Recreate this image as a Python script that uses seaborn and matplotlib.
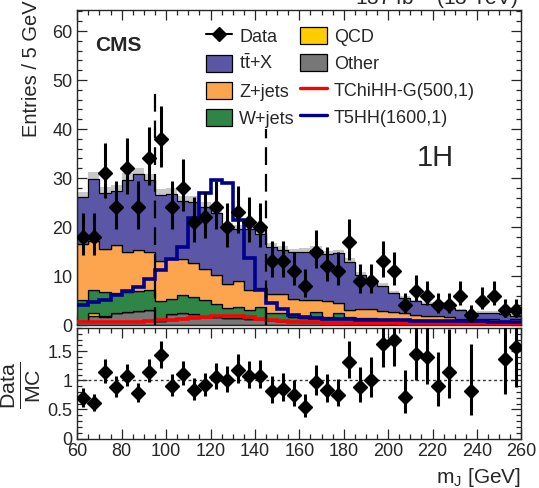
import numpy as np
import pandas as pd
import matplotlib
matplotlib.use("Agg")
import matplotlib.pyplot as plt
from matplotlib.patches import Patch
from matplotlib.lines import Line2D
from matplotlib.ticker import MultipleLocator
import seaborn as sns

sns.set_style("ticks")
plt.rcParams['font.family'] = ['Liberation Sans', 'DejaVu Sans']
plt.rcParams['mathtext.fontset'] = 'custom'
plt.rcParams['mathtext.rm'] = 'Liberation Sans'
plt.rcParams['mathtext.it'] = 'Liberation Sans:italic'
plt.rcParams['mathtext.bf'] = 'Liberation Sans:bold'

# ---------------- data ----------------
bin_edges = list(range(60, 261, 5))
data = [18, 18, 31, 24, 32, 24, 34, 38, 24, 28, 21, 22, 24, 20, 23, 21, 20, 13, 13, 11,
        8, 15, 12, 11, 17, 9, 9, 13, 11, 4, 7, 6, 4, 4, 6, 2, 5, 6, 3, 3]
ttx = [9.5, 12.8, 11.5, 11.0, 14.7, 15.5, 14.6, 13.6, 13.2,
       11.9, 12.6, 12.7, 12.6, 11.6, 10.5, 12.3, 11.0, 9.7, 9.0, 9.4, 9.7, 10.3, 9.6, 10.1,
       9.9, 7.0, 5.8, 5.1, 3.8, 3.2, 2.7, 2.5, 2.6, 1.9, 1.8, 1.25, 1.3, 1.3, 1.4, 0.7]
zjets = [11.4, 10.0, 8.7, 9.7, 8.2, 8.3, 7.9, 8.2, 8.1,
         7.3, 6.8, 6.3, 5.9, 5.0, 5.4, 4.1, 3.9, 3.9, 3.8, 3.8, 3.8, 2.4, 3.2, 2.0,
         1.4, 1.7, 1.8, 1.6, 1.5, 1.3, 1.1, 0.9, 0.9, 0.8, 0.5, 0.5, 0.6, 0.6, 0.3, 0.7]
wjets = [4.3, 4.7, 5.0, 4.2, 4.2, 4.2, 4.0, 3.9, 3.2,
         3.7, 3.6, 3.4, 2.6, 1.9, 2.1, 1.8, 2.4, 1.4, 1.6, 0.8, 0.7, 2.0, 1.0, 1.9,
         1.2, 1.1, 1.0, 0.9, 0.9, 0.8, 0.7, 0.6, 0.6, 0.6, 0.5, 0.5, 0.4, 0.4, 0.3, 0.3]
qcd = [0.0, 0.5, 0.2] + [0.0] * 37
other = [0.9, 1.9, 1.6, 2.4, 2.6, 2.8, 3.1, 0.9, 2.2, 2.4, 2.2, 1.7, 1.7, 1.5, 1.5,
         1.3, 1.2, 1.0, 0.9, 0.8, 0.7, 0.7, 0.6, 0.6, 0.4, 0.4, 0.4, 0.4, 0.3, 0.3,
         0.3, 0.3, 0.3, 0.2, 0.2, 0.2, 0.2, 0.2, 0.2, 0.2]
bkg_unc = [1.0, 1.4, 1.2, 1.2, 1.3, 1.3, 1.3, 1.2, 1.2, 1.1, 1.1, 1.1, 1.0, 0.9, 0.9,
           0.9, 0.9, 0.8, 0.8, 0.8, 0.8, 0.8, 0.8, 0.8, 0.7, 0.6, 0.6, 0.5, 0.5, 0.4,
           0.4, 0.4, 0.3, 0.3, 0.3, 0.3, 0.3, 0.3, 0.3, 0.3]
sig_tchihh = [0.6, 0.6, 0.6, 0.7, 0.7, 0.7, 0.8, 1.0, 1.1, 1.3, 1.5, 1.7, 1.8, 1.9, 1.8,
              1.6, 1.3, 1.0, 0.8, 0.7, 0.6, 0.6, 0.5, 0.5, 0.5, 0.4, 0.4, 0.4, 0.4, 0.3,
              0.3, 0.3, 0.3, 0.3, 0.3, 0.2, 0.2, 0.2, 0.2, 0.2]
sig_t5hh = [4.1, 4.6, 5.1, 6.1, 7.0, 7.8, 9.3, 11.2, 13.5, 16.0, 21.8, 26.9, 29.7, 28.9, 21.4,
            13.6, 7.1, 4.4, 3.2, 2.0, 1.7, 1.4, 1.3, 1.2, 1.2, 1.1, 1.1, 1.0, 1.0, 1.0,
            0.9, 0.9, 0.9, 0.8, 0.8, 0.8, 0.8, 0.7, 0.7, 0.7]
proc_names = ["t$\\bar{\\rm t}$+X", "Z+jets", "W+jets", "QCD", "Other"]
proc_colors = ["#5b57a6", "#fca54e", "#2e8545", "#ffcc00", "#777777"]
window_cuts = [95, 145]
window_tops = [48, 40]
ratio_ticks = [0, 0.5, 1, 1.5]

# ---------------- build ----------------
edges = np.array(bin_edges, dtype=float)
centers = 0.5 * (edges[:-1] + edges[1:])
procs = [ttx, zjets, wjets, qcd, other]
rows = []
for name, vals in zip(proc_names, procs):
    for c, v in zip(centers, vals):
        rows.append({"mJ": float(c), "w": float(v), "proc": name})
df = pd.DataFrame(rows)
total = np.sum(np.array(procs), axis=0)
unc = np.array(bkg_unc)
d = np.array(data, dtype=float)
err_lo = np.sqrt(d + 0.25) - 0.5
err_hi = np.sqrt(d + 0.25) + 0.5

W, H = 539, 488
fig = plt.figure(figsize=(W / 100, H / 100), dpi=100)
left = 77.3 / W
width = 444.0 / W
ax = fig.add_axes([left, 1 - 325 / H, width, (325 - 10) / H])
axr = fig.add_axes([left, 1 - 438.5 / H, width, (438.5 - 328) / H])

# uncertainty band
ax.fill_between(edges, np.append(total - unc, total[-1] - unc[-1]),
                np.append(total + unc, total[-1] + unc[-1]), step="post",
                color="#c8c8c8", lw=0, zorder=0.5)

sns.histplot(data=df, x="mJ", weights="w", hue="proc", hue_order=proc_names,
             multiple="stack", bins=bin_edges, element="step", fill=True,
             palette=dict(zip(proc_names, proc_colors)), alpha=1,
             edgecolor="black", linewidth=0.9, legend=False, ax=ax)

ax.stairs(sig_tchihh, edges, color="#ff0000", lw=2.6, baseline=None, zorder=3)
ax.stairs(sig_t5hh, edges, color="#00008b", lw=2.6, baseline=None, zorder=3)

for xc, yt in zip(window_cuts, window_tops):
    ax.plot([xc, xc], [0, yt], color="black", lw=1.6, dashes=(8, 4), zorder=4)

ax.errorbar(centers, d, yerr=[err_lo, err_hi], fmt="D", color="black",
            markersize=7, elinewidth=2.2, capsize=0, zorder=5)

ax.set_xlim(60, 260)
ax.set_ylim(0, 64.3)
ax.set_xlabel("")
ax.set_ylabel("Entries / 5 GeV", loc="top", fontsize=14.5)
ax.xaxis.set_major_locator(MultipleLocator(20))
ax.xaxis.set_minor_locator(MultipleLocator(5))
ax.yaxis.set_major_locator(MultipleLocator(10))
ax.yaxis.set_minor_locator(MultipleLocator(2))
ax.tick_params(axis="x", labelbottom=False)

# ratio
r = d / total
mask = r < 1.9
axr.errorbar(centers[mask], r[mask], yerr=[err_lo[mask] / total[mask], err_hi[mask] / total[mask]],
             fmt="D", color="black", markersize=7, elinewidth=2.2, capsize=0, zorder=5)
axr.axhline(1.0, color="#333333", lw=1, dashes=(2, 2), zorder=1)
axr.set_xlim(60, 260)
axr.set_ylim(0, 1.9)
axr.set_yticks(ratio_ticks)
axr.set_yticklabels(["0", "0.5", "1", "1.5"])
axr.xaxis.set_major_locator(MultipleLocator(20))
axr.xaxis.set_minor_locator(MultipleLocator(5))
axr.yaxis.set_minor_locator(MultipleLocator(0.1))
axr.set_xlabel("m$_{\\rm J}$ [GeV]", loc="right", fontsize=15)

for a in (ax, axr):
    a.tick_params(which="both", direction="in", top=True, right=True, labelsize=13)
    a.tick_params(which="major", length=7, width=0.9)
    a.tick_params(which="minor", length=3.5, width=0.9)
    for s in a.spines.values():
        s.set_linewidth(1.0)
ax.yaxis.set_label_coords(-0.082, 1.03)

fig.text(21 / W, 1 - 385 / H, "$\\frac{\\rm Data}{\\rm MC}$", fontsize=22, rotation=90,
         ha="center", va="center")
ax.text(0.04, 0.888, "CMS", transform=ax.transAxes, fontsize=15, fontweight="bold",
        va="center", ha="left")
ax.text(0.806, 0.53, "1H", transform=ax.transAxes, fontsize=21, va="center", ha="center")
fig.text(518 / W, 1 - 5 / H, "137 fb$^{-1}$ (13 TeV)", fontsize=15, ha="right", va="baseline")

handles = [
    Line2D([0], [0], color="black", marker="D", markersize=7, lw=1.5),
    Patch(facecolor=proc_colors[0], edgecolor="black", lw=0.9),
    Patch(facecolor=proc_colors[1], edgecolor="black", lw=0.9),
    Patch(facecolor=proc_colors[2], edgecolor="black", lw=0.9),
    Patch(facecolor=proc_colors[3], edgecolor="black", lw=0.9),
    Patch(facecolor=proc_colors[4], edgecolor="black", lw=0.9),
    Line2D([0], [0], color="#ff0000", lw=2.4),
    Line2D([0], [0], color="#00008b", lw=2.4),
]
labels = ["Data", proc_names[0], proc_names[1], proc_names[2], proc_names[3], proc_names[4],
          "TChiHH-G(500,1)", "T5HH(1600,1)"]
fig.legend(handles, labels, ncol=2, loc="upper left", bbox_to_anchor=(206 / W, 1 - 27 / H),
           frameon=False, fontsize=13, handlelength=1.45, handleheight=1.05,
           handletextpad=0.4, columnspacing=0.3, labelspacing=0.47, borderpad=0,
           borderaxespad=0)

fig.savefig("out.png", dpi=100)
